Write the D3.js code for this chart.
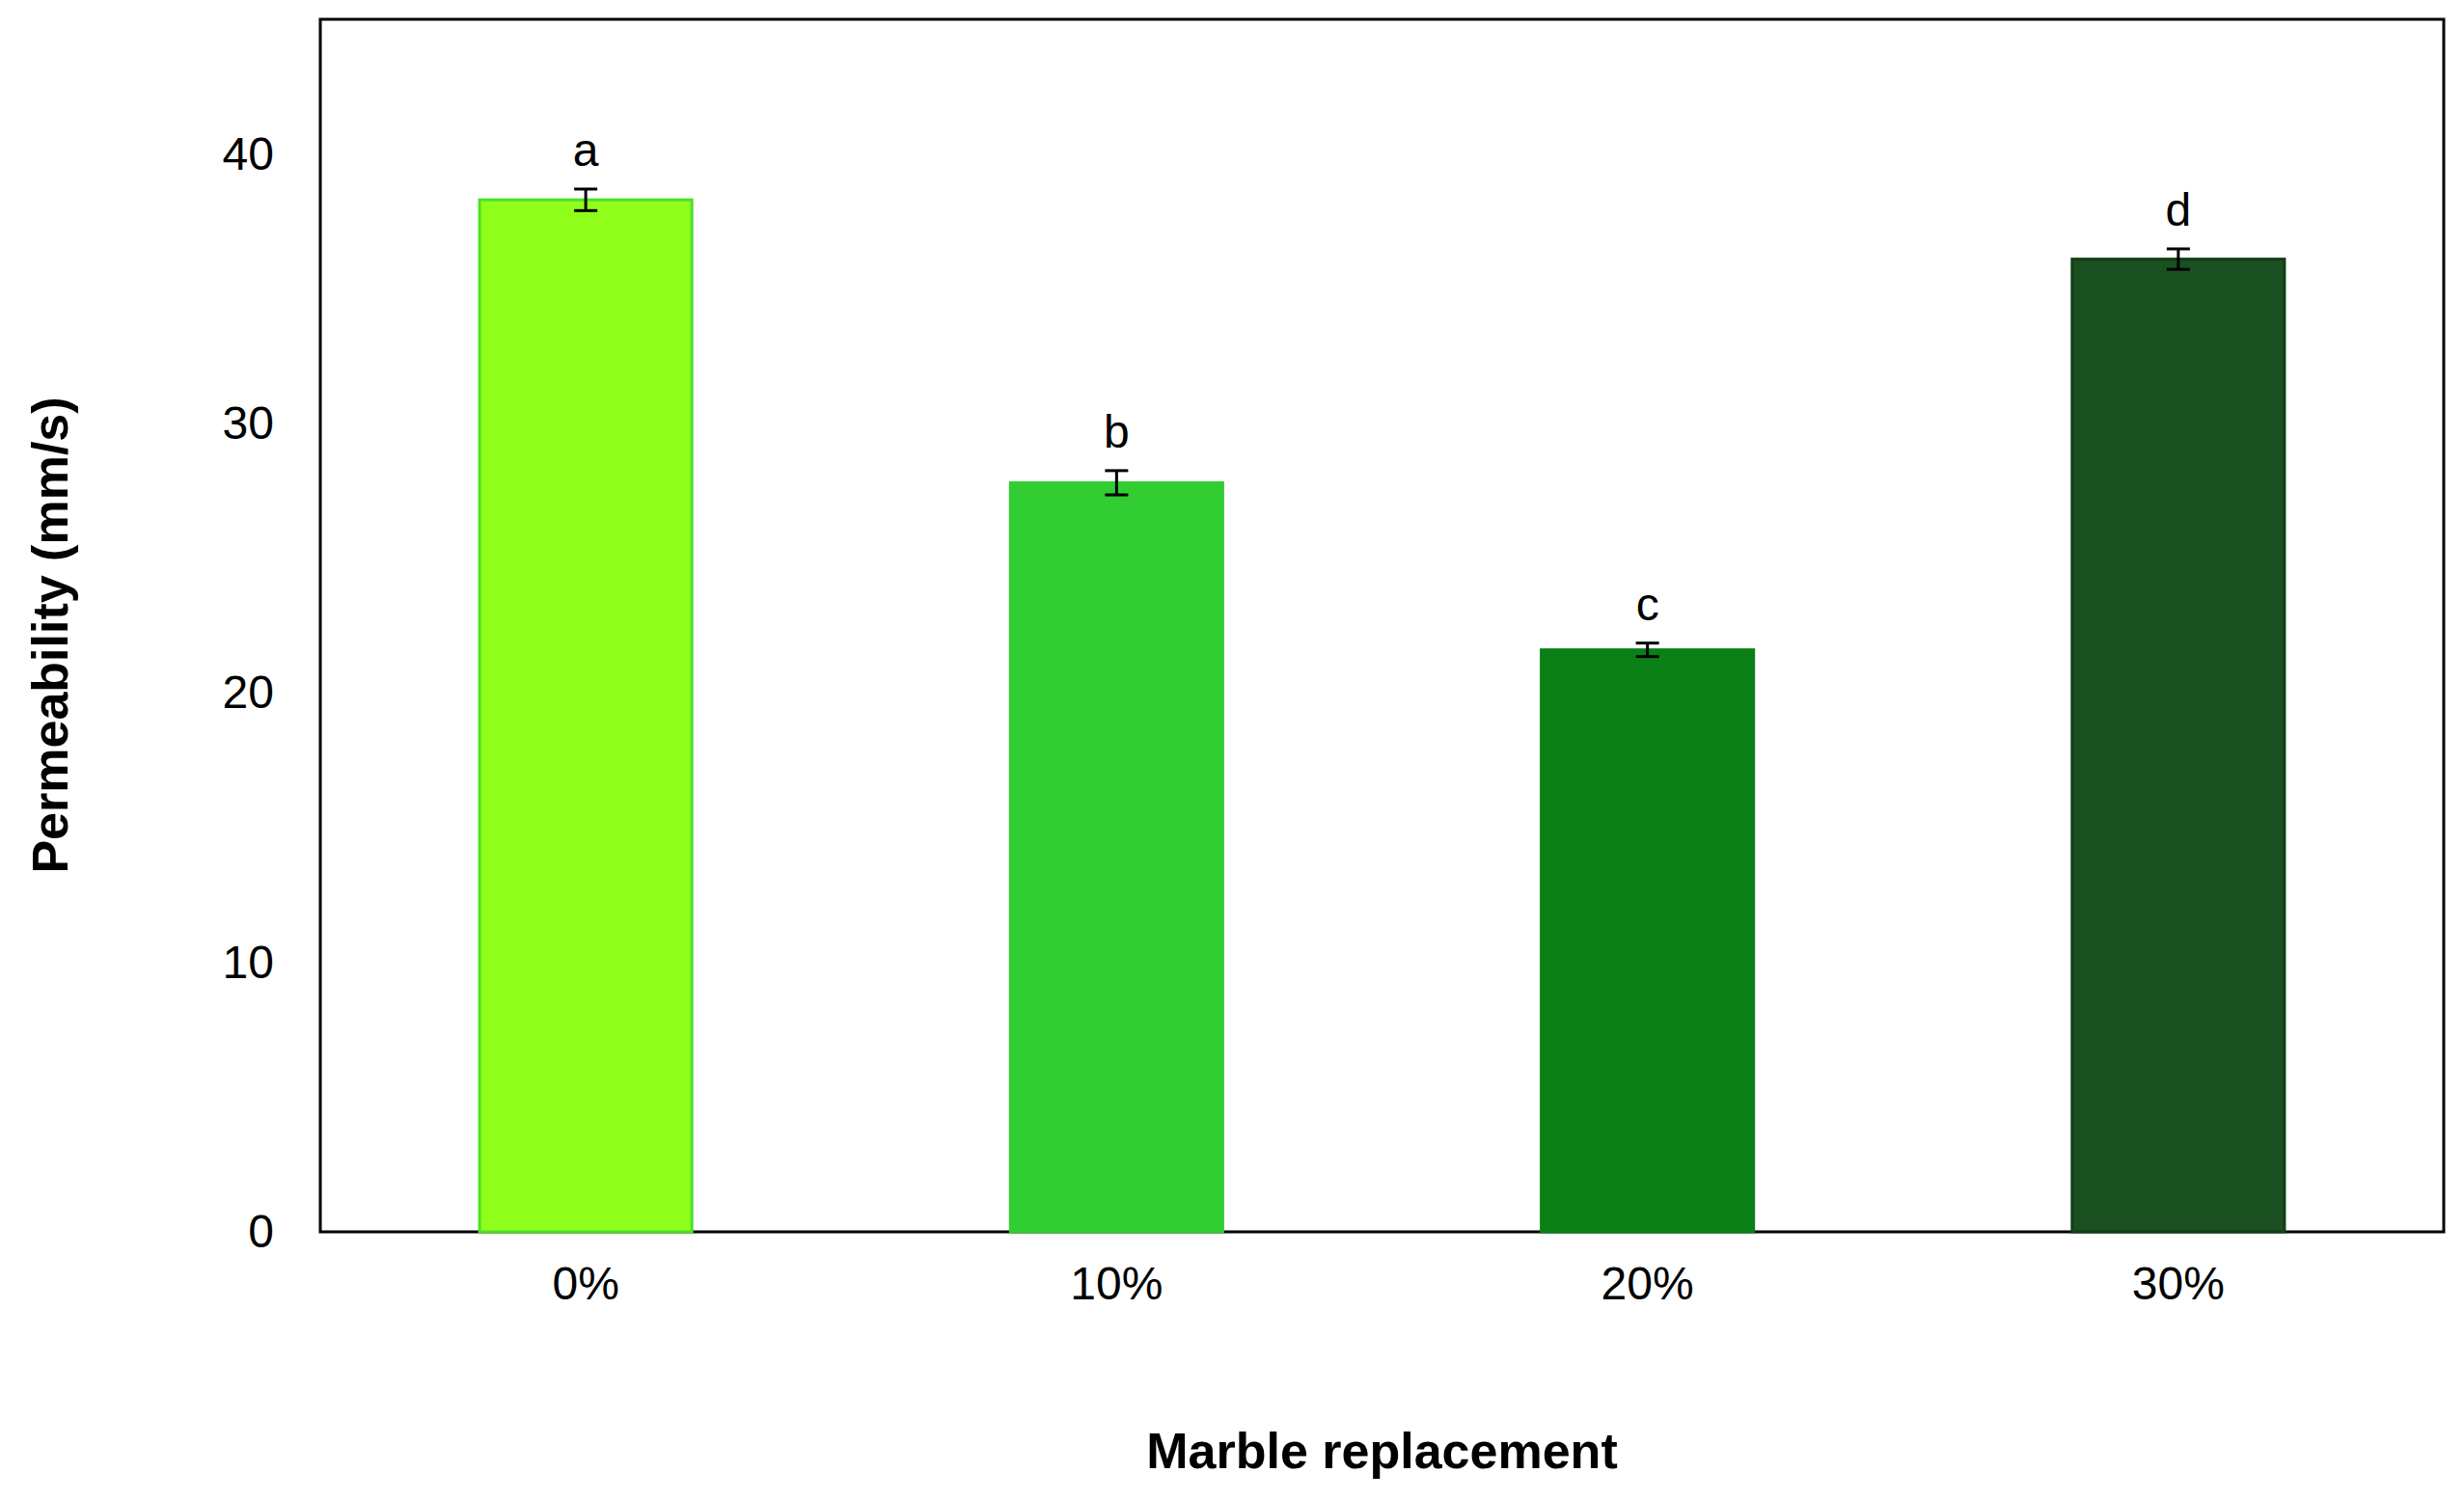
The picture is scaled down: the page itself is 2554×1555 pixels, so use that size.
<html>
<head>
<script src="https://cdn.jsdelivr.net/npm/d3@7"></script>
<style>
body { margin: 0; background: #fff; font-family: "Liberation Sans", Arial, sans-serif; }
</style>
</head>
<body>
<script>
var categories = ["0%", "10%", "20%", "30%"],
    values = [38.3, 27.8, 21.6, 36.1],
    errors = [0.4, 0.45, 0.25, 0.38],
    letters = ["a", "b", "c", "d"],
    fills = ["#8efe1a", "#32cd32", "#0a8016", "#1a5020"],
    strokes = ["#4be02a", "#32cd32", "#0a8016", "#143e18"],
    yTicks = [0, 10, 20, 30, 40];

var W = 2554, H = 1555,
    m = {left: 332, right: 21, top: 20, bottom: 278};

var svg = d3.select("body").append("svg")
    .attr("width", W).attr("height", H);

var x = d3.scaleBand().domain(categories)
    .range([m.left, W - m.right]).paddingInner(0.6).paddingOuter(0.3);
var y = d3.scaleLinear().domain([0, 45]).range([H - m.bottom, m.top]);

svg.append("rect")
    .attr("x", m.left).attr("y", m.top)
    .attr("width", W - m.left - m.right).attr("height", H - m.top - m.bottom)
    .attr("fill", "none").attr("stroke", "#000").attr("stroke-width", 3);

var yAxis = svg.append("g")
    .attr("transform", "translate(" + m.left + ",0)")
    .call(d3.axisLeft(y).tickValues(yTicks).tickSize(0).tickPadding(48));
yAxis.select(".domain").remove();
yAxis.selectAll("text").attr("font-size", 48).attr("font-family", "Liberation Sans");

var xAxis = svg.append("g")
    .attr("transform", "translate(0," + (H - m.bottom) + ")")
    .call(d3.axisBottom(x).tickSize(0).tickPadding(36));
xAxis.select(".domain").remove();
xAxis.selectAll("text").attr("font-size", 48).attr("font-family", "Liberation Sans");

var g = svg.selectAll("g.bar").data(categories).enter().append("g");

g.append("rect")
    .attr("x", function(d) { return x(d); })
    .attr("y", function(d, i) { return y(values[i]); })
    .attr("width", x.bandwidth())
    .attr("height", function(d, i) { return y(0) - y(values[i]); })
    .attr("fill", function(d, i) { return fills[i]; })
    .attr("stroke", function(d, i) { return strokes[i]; })
    .attr("stroke-width", 3);

var cx = function(d) { return x(d) + x.bandwidth() / 2; };
g.append("line")
    .attr("x1", cx).attr("x2", cx)
    .attr("y1", function(d, i) { return y(values[i] + errors[i]); })
    .attr("y2", function(d, i) { return y(values[i] - errors[i]); })
    .attr("stroke", "#000").attr("stroke-width", 3);
[1, -1].forEach(function(s) {
  g.append("line")
      .attr("x1", function(d) { return cx(d) - 12; })
      .attr("x2", function(d) { return cx(d) + 12; })
      .attr("y1", function(d, i) { return y(values[i] + s * errors[i]); })
      .attr("y2", function(d, i) { return y(values[i] + s * errors[i]); })
      .attr("stroke", "#000").attr("stroke-width", 3);
});

g.append("text")
    .attr("x", cx)
    .attr("y", function(d, i) { return y(values[i] + errors[i]) - 24; })
    .attr("text-anchor", "middle")
    .attr("font-size", 48)
    .text(function(d, i) { return letters[i]; });

svg.append("text")
    .attr("x", (m.left + W - m.right) / 2).attr("y", 1522)
    .attr("text-anchor", "middle").attr("font-size", 52).attr("font-weight", "bold")
    .text("Marble replacement");

svg.append("text")
    .attr("transform", "translate(70," + ((m.top + H - m.bottom) / 2 + 10) + ")rotate(-90)")
    .attr("text-anchor", "middle").attr("font-size", 52).attr("font-weight", "bold")
    .text("Permeability (mm/s)");
</script>
</body>
</html>
